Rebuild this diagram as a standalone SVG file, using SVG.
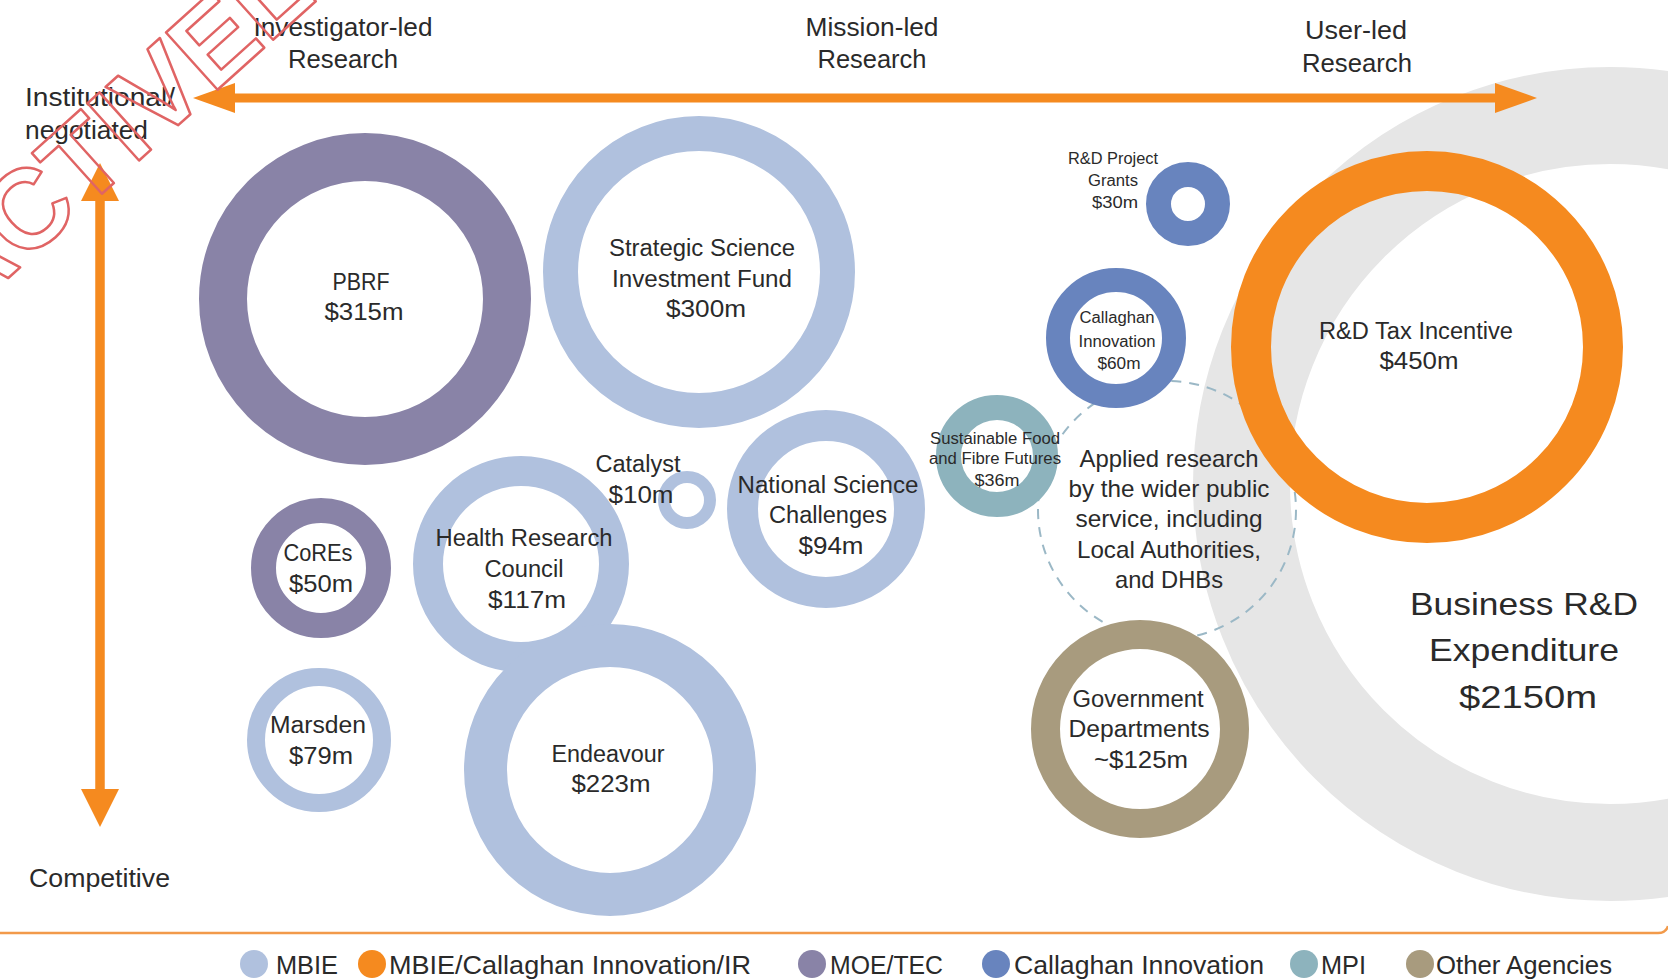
<svg xmlns="http://www.w3.org/2000/svg" width="1668" height="979" viewBox="0 0 1668 979">
<style>
.ring{fill:none}
.mbie{stroke:#b0c1de}
.orng{stroke:#f58a1f}
.moe{stroke:#8983a7}
.ci{stroke:#6884be}
.mpi{stroke:#8db3bd}
.oth{stroke:#a89b7e}
text{font-family:"Liberation Sans",Arial,sans-serif;fill:#2a2a2a;text-anchor:middle}
.l23{font-size:23px}
.l16{font-size:16px}
.l24{font-size:24px}
.l26{font-size:26px}
.l32{font-size:32px}
.lg{font-size:25px;text-anchor:start}
.wm{font-size:112px;font-weight:bold;fill:none;stroke:#e06464;stroke-width:2.5;stroke-linejoin:round;text-anchor:start;font-family:"Liberation Sans",Arial,sans-serif}
</style>
<defs>
<marker id="ah" markerUnits="userSpaceOnUse" markerWidth="42" markerHeight="30" refX="12" refY="15" orient="auto-start-reverse">
<path d="M0,0 L42,15 L0,30 z" fill="#f58a1f"/>
</marker>
<marker id="av" markerUnits="userSpaceOnUse" markerWidth="38" markerHeight="38" refX="10" refY="19" orient="auto-start-reverse">
<path d="M0,0 L38,19 L0,38 z" fill="#f58a1f"/>
</marker>
</defs>
<rect width="1668" height="979" fill="#ffffff"/>

<g id="business-rd">
<circle class="ring" cx="1610" cy="484" r="368.5" stroke="#e6e6e6" stroke-width="97"/>
</g>
<g id="applied-research-boundary">
<circle cx="1167" cy="510" r="129" fill="none" stroke="#9bb8c6" stroke-width="2" stroke-dasharray="10 8"/>
</g>

<g id="connectors">
<line x1="223" y1="98" x2="1507" y2="98" stroke="#f58a1f" stroke-width="9" marker-start="url(#ah)" marker-end="url(#ah)"/>
<line x1="100" y1="191" x2="100" y2="799" stroke="#f58a1f" stroke-width="9.5" marker-start="url(#av)" marker-end="url(#av)"/>
<path d="M0,933 L1658,933 Q1666,933 1668,926" fill="none" stroke="#f29a4a" stroke-width="2.5"/>
</g>

<g id="axis-labels">
<text class="l26" x="343" y="36" textLength="179" lengthAdjust="spacingAndGlyphs">Investigator-led</text>
<text class="l26" x="343" y="68" textLength="110" lengthAdjust="spacingAndGlyphs">Research</text>
<text class="l26" x="872" y="36" textLength="133" lengthAdjust="spacingAndGlyphs">Mission-led</text>
<text class="l26" x="872" y="68" textLength="109" lengthAdjust="spacingAndGlyphs">Research</text>
<text class="l26" x="1356" y="39" textLength="102" lengthAdjust="spacingAndGlyphs">User-led</text>
<text class="l26" x="1357" y="72" textLength="110" lengthAdjust="spacingAndGlyphs">Research</text>
<text class="l26" x="25" y="106" style="text-anchor:start" textLength="150" lengthAdjust="spacingAndGlyphs">Institutional/</text>
<text class="l26" x="25" y="139" style="text-anchor:start" textLength="123" lengthAdjust="spacingAndGlyphs">negotiated</text>
<text class="l26" x="29" y="887" style="text-anchor:start" textLength="141" lengthAdjust="spacingAndGlyphs">Competitive</text>
</g>

<g id="pbrf">
<circle class="ring moe" cx="365" cy="299" r="142" stroke-width="48"/>
<text class="l23" x="361" y="290" textLength="57" lengthAdjust="spacingAndGlyphs">PBRF</text>
<text class="l23" x="364" y="320" textLength="79" lengthAdjust="spacingAndGlyphs">$315m</text>
</g>
<g id="ssif">
<circle class="ring mbie" cx="699" cy="272" r="138.5" stroke-width="35"/>
<text class="l23" x="702" y="256" textLength="186" lengthAdjust="spacingAndGlyphs">Strategic Science</text>
<text class="l23" x="702" y="287" textLength="180" lengthAdjust="spacingAndGlyphs">Investment Fund</text>
<text class="l23" x="706" y="317" textLength="80" lengthAdjust="spacingAndGlyphs">$300m</text>
</g>
<g id="cores">
<circle class="ring moe" cx="321" cy="568" r="57.5" stroke-width="25"/>
<text class="l23" x="318" y="561" textLength="69" lengthAdjust="spacingAndGlyphs">CoREs</text>
<text class="l23" x="321" y="592" textLength="64" lengthAdjust="spacingAndGlyphs">$50m</text>
</g>
<g id="marsden">
<circle class="ring mbie" cx="319" cy="740" r="63" stroke-width="18"/>
<text class="l23" x="318" y="733" textLength="96" lengthAdjust="spacingAndGlyphs">Marsden</text>
<text class="l23" x="321" y="764" textLength="64" lengthAdjust="spacingAndGlyphs">$79m</text>
</g>
<g id="hrc">
<circle class="ring mbie" cx="521" cy="564" r="93" stroke-width="30"/>
<text class="l23" x="524" y="546" textLength="177" lengthAdjust="spacingAndGlyphs">Health Research</text>
<text class="l23" x="524" y="577" textLength="79" lengthAdjust="spacingAndGlyphs">Council</text>
<text class="l23" x="527" y="608" textLength="78" lengthAdjust="spacingAndGlyphs">$117m</text>
</g>
<g id="endeavour">
<circle class="ring mbie" cx="610" cy="770" r="124.5" stroke-width="43"/>
<text class="l23" x="608" y="762" textLength="113" lengthAdjust="spacingAndGlyphs">Endeavour</text>
<text class="l23" x="611" y="792" textLength="79" lengthAdjust="spacingAndGlyphs">$223m</text>
</g>
<g id="catalyst">
<circle class="ring mbie" cx="687" cy="500" r="23" stroke-width="12"/>
<text class="l23" x="638" y="472" textLength="85" lengthAdjust="spacingAndGlyphs">Catalyst</text>
<text class="l23" x="641" y="503" textLength="65" lengthAdjust="spacingAndGlyphs">$10m</text>
</g>
<g id="nsc">
<circle class="ring mbie" cx="826" cy="509" r="83.5" stroke-width="31"/>
<text class="l23" x="828" y="493" textLength="181" lengthAdjust="spacingAndGlyphs">National Science</text>
<text class="l23" x="828" y="523" textLength="118" lengthAdjust="spacingAndGlyphs">Challenges</text>
<text class="l23" x="831" y="554" textLength="65" lengthAdjust="spacingAndGlyphs">$94m</text>
</g>
<g id="rd-project-grants">
<circle class="ring ci" cx="1188" cy="204" r="29.5" stroke-width="25"/>
<text class="l16" x="1113" y="164" textLength="90" lengthAdjust="spacingAndGlyphs">R&amp;D Project</text>
<text class="l16" x="1113" y="186" textLength="50" lengthAdjust="spacingAndGlyphs">Grants</text>
<text class="l16" x="1115" y="208" textLength="46" lengthAdjust="spacingAndGlyphs">$30m</text>
</g>
<g id="callaghan-innovation">
<text class="l16" x="1117" y="323" textLength="75" lengthAdjust="spacingAndGlyphs">Callaghan</text>
<text class="l16" x="1117" y="347" textLength="77" lengthAdjust="spacingAndGlyphs">Innovation</text>
<text class="l16" x="1119" y="369" textLength="43" lengthAdjust="spacingAndGlyphs">$60m</text>
<circle class="ring ci" cx="1116" cy="338" r="58" stroke-width="24"/>
</g>
<g id="sff-futures">
<circle class="ring mpi" cx="997" cy="456" r="48.5" stroke-width="25"/>
<text class="l16" x="995" y="444" textLength="130" lengthAdjust="spacingAndGlyphs">Sustainable Food</text>
<text class="l16" x="995" y="464" textLength="132" lengthAdjust="spacingAndGlyphs">and Fibre Futures</text>
<text class="l16" x="997" y="486" textLength="45" lengthAdjust="spacingAndGlyphs">$36m</text>
</g>
<g id="applied-research">
<text class="l24" x="1169" y="467" textLength="179" lengthAdjust="spacingAndGlyphs">Applied research</text>
<text class="l24" x="1169" y="497" textLength="201" lengthAdjust="spacingAndGlyphs">by the wider public</text>
<text class="l24" x="1169" y="527" textLength="187" lengthAdjust="spacingAndGlyphs">service, including</text>
<text class="l24" x="1169" y="558" textLength="184" lengthAdjust="spacingAndGlyphs">Local Authorities,</text>
<text class="l24" x="1169" y="588" textLength="108" lengthAdjust="spacingAndGlyphs">and DHBs</text>
</g>
<g id="government-departments">
<circle class="ring oth" cx="1140" cy="729" r="94.5" stroke-width="29"/>
<text class="l23" x="1138" y="707" textLength="131" lengthAdjust="spacingAndGlyphs">Government</text>
<text class="l23" x="1139" y="737" textLength="141" lengthAdjust="spacingAndGlyphs">Departments</text>
<text class="l23" x="1141" y="768" textLength="94" lengthAdjust="spacingAndGlyphs">~$125m</text>
</g>
<g id="rd-tax-incentive">
<circle class="ring orng" cx="1427" cy="347" r="176" stroke-width="40"/>
<text class="l23" x="1416" y="339" textLength="194" lengthAdjust="spacingAndGlyphs">R&amp;D Tax Incentive</text>
<text class="l23" x="1419" y="369" textLength="79" lengthAdjust="spacingAndGlyphs">$450m</text>
</g>
<g id="business-rd-label">
<text class="l32" x="1524" y="615" textLength="228" lengthAdjust="spacingAndGlyphs">Business R&amp;D</text>
<text class="l32" x="1524" y="661" textLength="190" lengthAdjust="spacingAndGlyphs">Expenditure</text>
<text class="l32" x="1528" y="708" textLength="138" lengthAdjust="spacingAndGlyphs">$2150m</text>
</g>

<g id="legend">
<circle cx="254" cy="964" r="14" fill="#b0c1de"/>
<text class="lg" x="276" y="974" textLength="62" lengthAdjust="spacingAndGlyphs">MBIE</text>
<circle cx="372" cy="964" r="14" fill="#f58a1f"/>
<text class="lg" x="389" y="974" textLength="362" lengthAdjust="spacingAndGlyphs">MBIE/Callaghan Innovation/IR</text>
<circle cx="812" cy="964" r="14" fill="#8983a7"/>
<text class="lg" x="830" y="974" textLength="113" lengthAdjust="spacingAndGlyphs">MOE/TEC</text>
<circle cx="996" cy="964" r="14" fill="#6884be"/>
<text class="lg" x="1014" y="974" textLength="250" lengthAdjust="spacingAndGlyphs">Callaghan Innovation</text>
<circle cx="1304" cy="964" r="14" fill="#8db3bd"/>
<text class="lg" x="1321" y="974" textLength="45" lengthAdjust="spacingAndGlyphs">MPI</text>
<circle cx="1420" cy="964" r="14" fill="#a89b7e"/>
<text class="lg" x="1436" y="974" textLength="176" lengthAdjust="spacingAndGlyphs">Other Agencies</text>
</g>

<g id="watermark">
<text class="wm" x="-218" y="482" transform="rotate(-42 -218 482)">PROACTIVELY RELEASED</text>
</g>
</svg>
